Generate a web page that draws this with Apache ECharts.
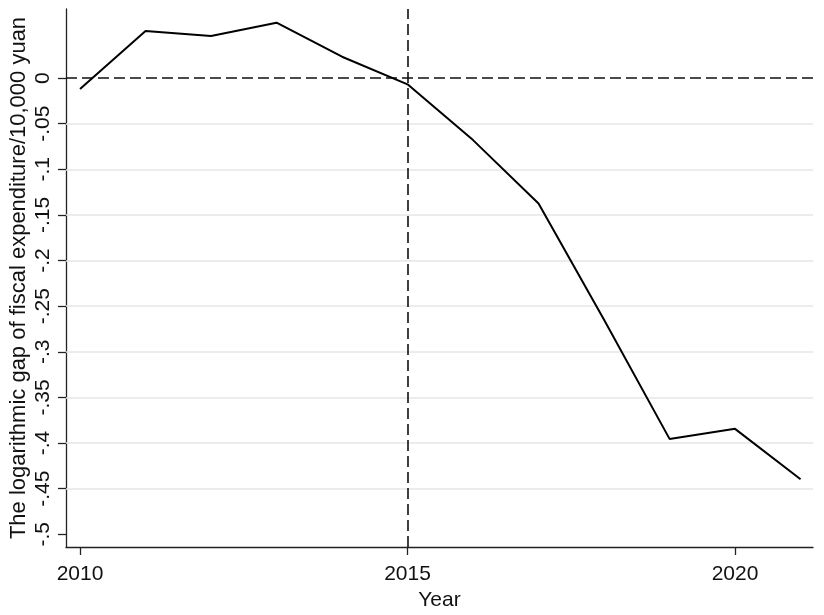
<!DOCTYPE html>
<html>
<head>
<meta charset="utf-8">
<script src="https://cdn.jsdelivr.net/npm/echarts@6/dist/echarts.min.js"></script>
<style>html,body{margin:0;padding:0;background:#fff}#c{width:824px;height:615px}</style>
</head>
<body>
<div id="c"></div>
<script>
const years = [2010, 2011, 2012, 2013, 2014, 2015, 2016, 2017, 2018, 2019, 2020, 2021];
const gapValues = [-0.012, 0.0515, 0.046, 0.0607, 0.0234, -0.0069, -0.068, -0.1374, -0.265, -0.3955, -0.3845, -0.4397];
const xTicks = [2010, 2015, 2020];
const yTicks = [0, -0.05, -0.1, -0.15, -0.2, -0.25, -0.3, -0.35, -0.4, -0.45, -0.5];
const yTickLabels = ['0', '-.05', '-.1', '-.15', '-.2', '-.25', '-.3', '-.35', '-.4', '-.45', '-.5'];
const gridValues = [-0.05, -0.1, -0.15, -0.2, -0.25, -0.3, -0.35, -0.4, -0.45];
const refY = 0;
const refX = 2015;

const font = 'Liberation Sans, Arial, sans-serif';
const chart = echarts.init(document.getElementById('c'), null, {renderer: 'canvas'});
chart.setOption({
  animation: false,
  backgroundColor: '#fff',
  grid: {left: 66, right: 11, top: 9, bottom: 68, containLabel: false, outerBoundsMode: 'none'},
  xAxis: {
    type: 'value', min: 2009.786, max: 2021.19,
    name: 'Year', nameLocation: 'middle', nameGap: 43, nameMoveOverlap: false,
    nameTextStyle: {fontFamily: font, fontSize: 21, color: '#111'},
    axisLine: {show: true, onZero: false, lineStyle: {color: '#222', width: 1.3}},
    axisTick: {show: true, length: 8, customValues: xTicks, lineStyle: {color: '#222', width: 1.3}},
    axisLabel: {customValues: xTicks, margin: 17, fontFamily: font, fontSize: 21, color: '#111',
      formatter: v => String(v)},
    splitLine: {show: false}
  },
  yAxis: {
    type: 'value', min: -0.514, max: 0.0757,
    name: 'The logarithmic gap of fiscal expenditure/10,000 yuan', nameLocation: 'middle', nameGap: 36, nameMoveOverlap: false,
    nameTextStyle: {fontFamily: font, fontSize: 22, color: '#111'},
    axisLine: {show: true, onZero: false, lineStyle: {color: '#222', width: 1.3}},
    axisTick: {show: true, length: 8, customValues: yTicks, lineStyle: {color: '#222', width: 1.3}},
    axisLabel: {customValues: yTicks, rotate: 90, margin: 12, fontFamily: font, fontSize: 21, color: '#111',
      formatter: v => { const i = yTicks.findIndex(t => Math.abs(t - v) < 1e-9); return i >= 0 ? yTickLabels[i] : ''; }},
    splitLine: {show: false}
  },
  series: [
    {
      type: 'line', data: [], silent: true, z: 1,
      markLine: {
        silent: true, symbol: 'none', label: {show: false}, z: 1,
        lineStyle: {color: '#e6e6e6', width: 1.6, type: 'solid'},
        data: gridValues.map(v => ({yAxis: v}))
      }
    },
    {
      type: 'line', data: [], silent: true, z: 3,
      markLine: {
        silent: true, symbol: 'none', label: {show: false}, z: 3,
        lineStyle: {color: '#111', width: 1.6, type: [11, 5]},
        data: [{yAxis: refY}, {xAxis: refX}]
      }
    },
    {
      type: 'line', z: 10,
      data: years.map((y, i) => [y, gapValues[i]]),
      showSymbol: false, symbol: 'none',
      lineStyle: {color: '#000', width: 2}
    }
  ]
});
</script>
</body>
</html>
